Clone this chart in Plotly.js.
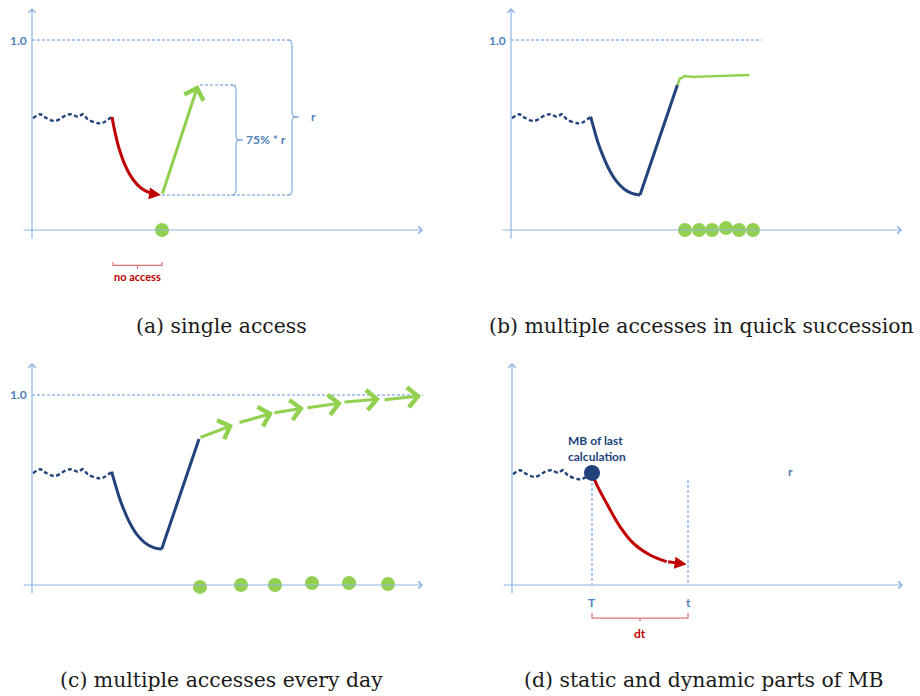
<!DOCTYPE html>
<html><head><meta charset="utf-8">
<script src="https://cdn.plot.ly/plotly-3.0.1.min.js"></script>
<style>html,body{margin:0;padding:0;background:#fff}</style>
</head><body><div id="chart" style="width:920px;height:696px"></div>
<script>
// ---------- data (diagram values, x in arbitrary time units, y in MB units) ----------
const waveX = [0.05,0.4,0.65,1.15,1.73,1.98,2.3,2.55,2.8,3.4,3.65,3.98];
const waveY = [0.588,0.609,0.593,0.574,0.605,0.609,0.596,0.609,0.582,0.561,0.570,0.596];

const aDecayX = [4.0,4.15,4.35,4.6,4.9,5.25,5.65,6.05,6.45];
const aDecayY = [0.595,0.515,0.43,0.355,0.29,0.24,0.207,0.19,0.184];
const aBoostX = [6.5, 8.3];
const aBoostY = [0.184, 0.763];
const aAccessX = [6.5];
const aAccessY = [0];

const bDecayX = [3.98,4.15,4.35,4.6,4.9,5.25,5.65,6.05,6.45];
const bDecayY = [0.596,0.532,0.46,0.39,0.32,0.26,0.216,0.193,0.184];
const bRiseX = [6.45, 8.32];
const bRiseY = [0.184, 0.763];
const bPlateauX = [8.32,8.38,8.45,8.55,8.65,9.1,10.5,11.92];
const bPlateauY = [0.763,0.785,0.798,0.80,0.81,0.806,0.81,0.816];
const bAccessX = [8.7,9.4,10.05,10.75,11.4,12.1];
const bAccessY = [0,0,0,0.01,0,0];

const cDecayX = [3.98,4.15,4.35,4.6,4.9,5.25,5.65,6.05,6.48];
const cDecayY = [0.596,0.535,0.465,0.395,0.325,0.265,0.222,0.198,0.188];
const cRiseX = [6.48, 8.35];
const cRiseY = [0.188, 0.768];
const cBoostStartX = [8.35,10.3,12.05,13.7,15.55,17.55];
const cBoostStartY = [0.774,0.853,0.905,0.932,0.963,0.974];
const cBoostEndX = [10.05,12.05,13.6,15.5,17.4,19.45];
const cBoostEndY = [0.842,0.905,0.932,0.958,0.979,0.995];
const cAccessX = [8.4,10.45,12.15,14.0,15.85,17.8];
const cAccessY = [-0.01,0,0,0.01,0.01,0.005];

const dLastX = [4.0];
const dLastY = [0.59];
const dDecayX = [4.0,4.23,4.73,5.4,6.07,6.9,7.73,8.73];
const dDecayY = [0.59,0.53,0.43,0.307,0.219,0.158,0.123,0.109];
const dMarkX = [4.0, 8.8];
const dMarkTop = [0.59, 0.553];
const dMarkLabels = ['T', 't'];

const maxLevel = 1.0;
const levelEndX = [13.0, 12.55, 19.55];
const aLevels = [0.184, 0.763];     // low point and boosted level
const aBracketX = [10.2, 13.0];
const aBracketTop = [0.763, 1.0];
const aBracketMid = [0.474, 0.595];
const aBracketLabels = ['75% * r', 'r'];
const noAccessRange = [4.05, 6.5];
const dtRange = [4.0, 8.8];

const captions = ['(a) single access', '(b) multiple accesses in quick succession',
                  '(c) multiple accesses every day', '(d) static and dynamic parts of MB'];

// ---------- styles ----------
const NAVY = '#21427a', RED = '#c00000', GREEN = '#92d050';
const AXIS = '#8fb3e0', DOT = '#5f92d4', LBL = '#4f81bd';
const LFONT = 'Lato, "Noto Sans", sans-serif';

const traces = [], ann = [];
function ax(i){ return i===1 ? ['x','y'] : ['x'+i,'y'+i]; }

function line(i, x, y, color, width, dash, shape){
  const [xa,ya] = ax(i);
  traces.push({x, y, xaxis:xa, yaxis:ya, mode:'lines', type:'scatter', hoverinfo:'skip',
    line:{color, width, dash: dash||'solid', shape: shape||'linear', smoothing:1}});
}
function dots(i, x, y, color, size){
  const [xa,ya] = ax(i);
  traces.push({x, y, xaxis:xa, yaxis:ya, mode:'markers', type:'scatter', hoverinfo:'skip',
    marker:{color, size, line:{width:0}}});
}
function arrow(i, x0, y0, x1, y1, color, width, head, size){
  const [xa,ya] = ax(i);
  ann.push({xref:xa, yref:ya, axref:xa, ayref:ya, x:x1, y:y1, ax:x0, ay:y0, text:'',
    showarrow:true, arrowhead:head, arrowsize:size, arrowwidth:width, arrowcolor:color,
    standoff:0, startstandoff:0});
}
function label(i, x, y, text, color, size, xanchor, weight){
  const [xa,ya] = ax(i);
  ann.push({xref:xa, yref:ya, x, y, text, showarrow:false, xanchor: xanchor||'center',
    yanchor:'middle', align:'left', font:{family:LFONT, size, color, weight: weight||700}});
}
function vBracket(i, x, top, mid, bot, color){
  line(i, [x-0.25, x-0.05, x, x, x+0.05, x+0.35, x+0.05, x, x, x-0.05, x-0.25],
          [top, top-0.004, top-0.025, mid+0.02, mid+0.004, mid, mid-0.004, mid-0.02, bot+0.025, bot+0.004, bot],
          color, 1.3);
}
function hBracket(i, x0, x1, yEnd, yH, yTick, color){
  const xm = (x0+x1)/2;
  line(i, [x0, x0, xm, xm, xm, x1, x1], [yEnd, yH, yH, yTick, yH, yH, yEnd], color, 1.2);
}
function axesArrows(i){
  arrow(i, 0, -0.053, 0, 1.168, AXIS, 1.2, 4, 1.15);
  arrow(i, -0.5, 0, 19.55, 0, AXIS, 1.2, 4, 1.15);
}

// ---------- panel a ----------
axesArrows(1);
line(1, [0, levelEndX[0]], [maxLevel, maxLevel], DOT, 1, '3px,2px');
line(1, [aBoostX[0], aBracketX[1]], [aLevels[0], aLevels[0]], DOT, 1, '3px,2px');
line(1, [aBoostX[1]+0.1, aBracketX[0]], [aLevels[1], aLevels[1]], DOT, 1, '3px,2px');
vBracket(1, aBracketX[0], aBracketTop[0], aBracketMid[0], aLevels[0], AXIS);
vBracket(1, aBracketX[1], aBracketTop[1], aBracketMid[1], aLevels[0], AXIS);
label(1, aBracketX[0]+0.4, aBracketMid[0], aBracketLabels[0], LBL, 12, 'left');
label(1, aBracketX[1]+0.85, aBracketMid[1], aBracketLabels[1], LBL, 12, 'left');
label(1, -0.7, maxLevel, '1.0', LBL, 12);
line(1, waveX, waveY, NAVY, 2.4, '4px,2.5px', 'spline');
line(1, aDecayX.slice(0,-1), aDecayY.slice(0,-1), RED, 3, 'solid', 'spline');
arrow(1, aDecayX[aDecayX.length-2], aDecayY[aDecayY.length-2], aDecayX[aDecayX.length-1], aDecayY[aDecayY.length-1], RED, 3, 2, 0.8);
arrow(1, aBoostX[0], aBoostY[0], aBoostX[1], aBoostY[1], GREEN, 3, 4, 1.3);
dots(1, aAccessX, aAccessY, GREEN, 14);
hBracket(1, noAccessRange[0], noAccessRange[1], -0.168, -0.186, -0.205, '#e07070');
label(1, (noAccessRange[0]+noAccessRange[1])/2, -0.247, 'no access', RED, 11);

// ---------- panel b ----------
axesArrows(2);
line(2, [0, levelEndX[1]], [maxLevel, maxLevel], DOT, 1, '3px,2px');
label(2, -0.7, maxLevel, '1.0', LBL, 12);
line(2, waveX, waveY, NAVY, 2.4, '4px,2.5px', 'spline');
line(2, bDecayX, bDecayY, NAVY, 3, 'solid', 'spline');
line(2, bRiseX, bRiseY, NAVY, 3);
line(2, bPlateauX, bPlateauY, GREEN, 2.4);
dots(2, bAccessX, bAccessY, GREEN, 14);

// ---------- panel c ----------
axesArrows(3);
line(3, [0, levelEndX[2]], [maxLevel, maxLevel], DOT, 1, '3px,2px');
label(3, -0.7, maxLevel, '1.0', LBL, 12);
line(3, waveX, waveY, NAVY, 2.4, '4px,2.5px', 'spline');
line(3, cDecayX, cDecayY, NAVY, 3, 'solid', 'spline');
line(3, cRiseX, cRiseY, NAVY, 3);
for (let k=0; k<cBoostStartX.length; k++)
  arrow(3, cBoostStartX[k], cBoostStartY[k], cBoostEndX[k], cBoostEndY[k], GREEN, 3, 4, 1.3);
dots(3, cAccessX, cAccessY, GREEN, 14);

// ---------- panel d ----------
axesArrows(4);
for (let k=0; k<dMarkX.length; k++){
  line(4, [dMarkX[k], dMarkX[k]], [dMarkTop[k], 0], DOT, 1, '3px,2px');
  label(4, dMarkX[k], -0.09, dMarkLabels[k], LBL, 12);
}
line(4, waveX, waveY.map(v=>v-0.005), NAVY, 2.4, '4px,2.5px', 'spline');
line(4, dDecayX.slice(0,-1), dDecayY.slice(0,-1), RED, 3, 'solid', 'spline');
arrow(4, dDecayX[dDecayX.length-2], dDecayY[dDecayY.length-2], dDecayX[dDecayX.length-1], dDecayY[dDecayY.length-1], RED, 3, 2, 0.8);
dots(4, dLastX, dLastY, NAVY, 16);
label(4, 2.7, 0.716, 'MB of last<br>calculation', NAVY, 12, 'left');
label(4, 13.9, 0.595, 'r', LBL, 12);
hBracket(4, dtRange[0], dtRange[1], -0.147, -0.174, -0.19, '#e07070');
label(4, (dtRange[0]+dtRange[1])/2, -0.253, 'dt', RED, 12);

// ---------- captions ----------
const capPos = [[0.2408,0.5316],[0.7630,0.5316],[0.2413,0.0230],[0.7650,0.0230]];
captions.forEach((t,k)=>ann.push({xref:'paper', yref:'paper', x:capPos[k][0], y:capPos[k][1],
  text:t, showarrow:false, xanchor:'center', yanchor:'middle',
  font:{family:'"DejaVu Serif", serif', size:20.4, color:'#1a1a1a'}}));

// ---------- layout ----------
const hid = {visible:false, showgrid:false, zeroline:false, fixedrange:true};
const layout = {
  width:920, height:696, margin:{l:0,r:0,t:0,b:0}, showlegend:false,
  paper_bgcolor:'#fff', plot_bgcolor:'rgba(0,0,0,0)',
  xaxis:  Object.assign({domain:[0.01087,0.46739], range:[-1.1,19.9], anchor:'y'}, hid),
  yaxis:  Object.assign({domain:[0.56897,1], range:[-0.3684,1.2105], anchor:'x'}, hid),
  xaxis2: Object.assign({domain:[0.53261,0.98913], range:[-1.05,19.95], anchor:'y2'}, hid),
  yaxis2: Object.assign({domain:[0.56897,1], range:[-0.3684,1.2105], anchor:'x2'}, hid),
  xaxis3: Object.assign({domain:[0.01087,0.46739], range:[-1.1,19.9], anchor:'y3'}, hid),
  yaxis3: Object.assign({domain:[0.06034,0.49138], range:[-0.3632,1.2158], anchor:'x3'}, hid),
  xaxis4: Object.assign({domain:[0.53261,0.98913], range:[-1.1,19.9], anchor:'y4'}, hid),
  yaxis4: Object.assign({domain:[0.06034,0.49138], range:[-0.3632,1.2158], anchor:'x4'}, hid),
  annotations: ann
};
Plotly.newPlot('chart', traces, layout, {staticPlot:true, displayModeBar:false});
</script></body></html>
